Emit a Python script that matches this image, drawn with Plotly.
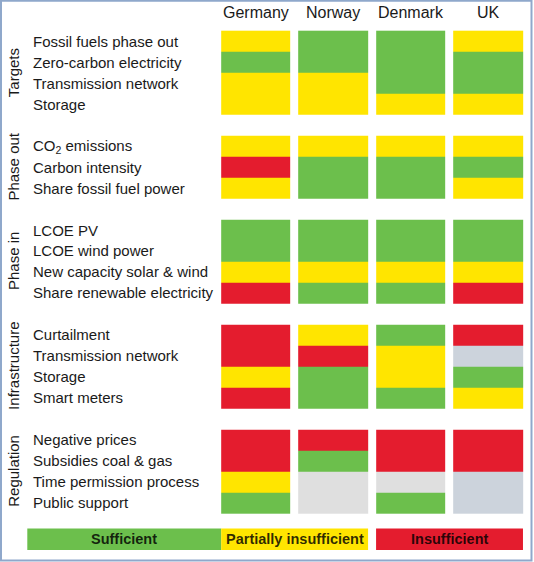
import plotly.graph_objects as go

# ---------------- data ----------------
countries = ["Germany", "Norway", "Denmark", "UK"]

groups = ["Targets", "Phase out", "Phase in", "Infrastructure", "Regulation"]

targets_rows = ["Fossil fuels phase out", "Zero-carbon electricity", "Transmission network", "Storage"]
targets_vals = [["Y", "G", "G", "Y"],
                ["G", "G", "G", "G"],
                ["Y", "Y", "G", "G"],
                ["Y", "Y", "Y", "Y"]]

phaseout_rows = ["CO<sub>2</sub> emissions", "Carbon intensity", "Share fossil fuel power"]
phaseout_vals = [["Y", "Y", "Y", "Y"],
                 ["R", "G", "G", "G"],
                 ["Y", "G", "G", "Y"]]

phasein_rows = ["LCOE PV", "LCOE wind power", "New capacity solar & wind", "Share renewable electricity"]
phasein_vals = [["G", "G", "G", "G"],
                ["G", "G", "G", "G"],
                ["Y", "Y", "Y", "Y"],
                ["R", "G", "G", "R"]]

infra_rows = ["Curtailment", "Transmission network", "Storage", "Smart meters"]
infra_vals = [["R", "Y", "G", "R"],
              ["R", "R", "Y", "B"],
              ["Y", "G", "Y", "G"],
              ["R", "G", "G", "Y"]]

regulation_rows = ["Negative prices", "Subsidies coal & gas", "Time permission process", "Public support"]
regulation_vals = [["R", "R", "R", "R"],
                   ["R", "G", "R", "R"],
                   ["Y", "L", "L", "B"],
                   ["G", "L", "G", "B"]]

legend_labels = ["Sufficient", "Partially insufficient", "Insufficient"]

# ---------------- styles ----------------
status_codes = ["G", "Y", "R", "L", "B"]
status_colors = ["#6CBF4C", "#FFE500", "#E41C2E", "#DFDFDF", "#CCD3DC"]

W, H = 534, 562
TOP_PX, ROW_PX = 30.7, 20.98
COL0_PX, COL_PITCH = 255.9, 77.45
XGAP = 8
FONT = "Liberation Sans, Arial, sans-serif"
TXT = "#1a1a1a"

group_rows = [targets_rows, phaseout_rows, phasein_rows, infra_rows, regulation_rows]
group_vals = [targets_vals, phaseout_vals, phasein_vals, infra_vals, regulation_vals]

# build grid (one blank row between groups)
z, yidx, labels, group_centers = [], [], [], []
r = 0
for gi, (rows, vals) in enumerate(zip(group_rows, group_vals)):
    start = r
    for name, v in zip(rows, vals):
        z.append([status_codes.index(c) for c in v])
        yidx.append(r)
        labels.append((r, name))
        r += 1
    group_centers.append((start + r - 1) / 2)
    if gi < len(group_rows) - 1:
        z.append([None] * len(countries))
        yidx.append(r)
        r += 1

n = len(status_colors)
colorscale = []
for i, c in enumerate(status_colors):
    colorscale.append([i / n, c])
    colorscale.append([(i + 1) / n, c])

fig = go.Figure(go.Heatmap(
    z=z, x=list(range(len(countries))), y=yidx,
    colorscale=colorscale, zmin=-0.5, zmax=n - 0.5,
    showscale=False, xgap=XGAP, ygap=0, hoverinfo="skip",
))

def px_to_y(p):
    return -0.5 + (p - TOP_PX) / ROW_PX

annotations = []
for ri, name in labels:
    annotations.append(dict(x=31 / W, xref="paper", y=ri, yref="y", text=name,
                            showarrow=False, xanchor="left", yanchor="middle",
                            font=dict(family=FONT, size=15, color=TXT)))
for g, c in zip(groups, group_centers):
    annotations.append(dict(x=13.5 / W, xref="paper", y=c, yref="y", text=g,
                            showarrow=False, textangle=-90, xanchor="center", yanchor="middle",
                            font=dict(family=FONT, size=15, color=TXT)))
for i, c in enumerate(countries):
    annotations.append(dict(x=i, xref="x", y=px_to_y(12.5), yref="y", text=c,
                            showarrow=False, xanchor="center", yanchor="middle",
                            font=dict(family=FONT, size=16, color=TXT)))

# legend bar
half_cell = (COL_PITCH - XGAP) / 2
ger_left = COL0_PX - half_cell
nor_right = COL0_PX + COL_PITCH + half_cell
den_left = COL0_PX + 2 * COL_PITCH - half_cell
uk_right = COL0_PX + 3 * COL_PITCH + half_cell
LEG_TOP, LEG_BOT = 528.5, 550.0
leg_boxes = [(27.3, ger_left), (ger_left, nor_right), (den_left, uk_right)]
leg_colors = status_colors[:3]

shapes = []
for (x0, x1), col, lab in zip(leg_boxes, leg_colors, legend_labels):
    shapes.append(dict(type="rect", xref="paper", yref="paper",
                       x0=x0 / W, x1=x1 / W, y0=1 - LEG_BOT / H, y1=1 - LEG_TOP / H,
                       fillcolor=col, line=dict(width=0), layer="below"))
    annotations.append(dict(x=(x0 + x1) / 2 / W, xref="paper",
                            y=1 - (LEG_TOP + LEG_BOT) / 2 / H, yref="paper", text="<b>" + lab + "</b>",
                            showarrow=False, xanchor="center", yanchor="middle",
                            font=dict(family=FONT, size=14.5, color="rgba(0,0,0,0.82)")))

# frame
shapes.append(dict(type="rect", xref="paper", yref="paper",
                   x0=1 / W, x1=531.5 / W, y0=1 - 560.5 / H, y1=1 - 0.8 / H,
                   line=dict(color="#8FA8CB", width=2), fillcolor="rgba(0,0,0,0)"))

fig.update_layout(
    width=W, height=H, margin=dict(l=0, r=0, t=0, b=0),
    paper_bgcolor="white", plot_bgcolor="white",
    xaxis=dict(range=[-COL0_PX / COL_PITCH, (W - COL0_PX) / COL_PITCH],
               visible=False, fixedrange=True),
    yaxis=dict(range=[px_to_y(H), px_to_y(0)], visible=False, fixedrange=True),
    annotations=annotations, shapes=shapes, showlegend=False,
)

fig.write_html("out.html",
               config={"displayModeBar": False},
               post_script="document.body.style.margin='0';document.body.style.overflow='hidden';")
